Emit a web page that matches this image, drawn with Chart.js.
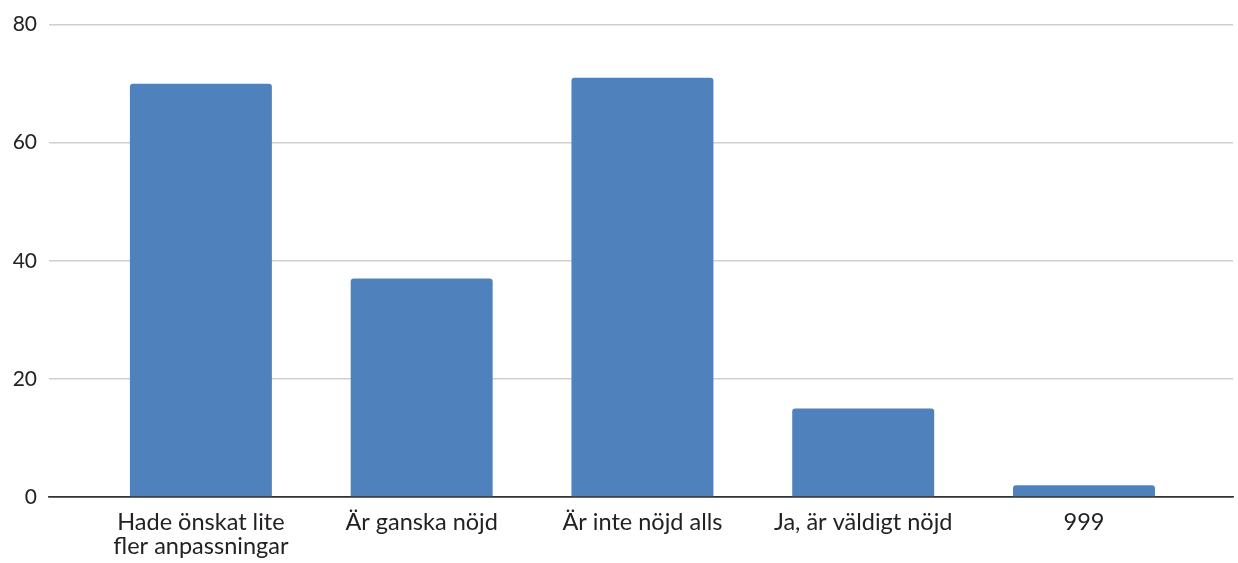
<!DOCTYPE html>
<html>
<head>
<meta charset="utf-8">
<script src="https://cdn.jsdelivr.net/npm/chart.js@4"></script>
<style>
  html, body { margin: 0; padding: 0; background: #fff; }
  #wrap { width: 1238px; height: 563px; }
</style>
</head>
<body>
<div id="wrap"><canvas id="chart"></canvas></div>
<script>
const categories = [
  ["Hade önskat lite", "fler anpassningar"],
  "Är ganska nöjd",
  "Är inte nöjd alls",
  "Ja, är väldigt nöjd",
  "999",
];
const counts = [70, 37, 71, 15, 2];
const yTicks = [0, 20, 40, 60, 80];

document.addEventListener("DOMContentLoaded", () => {
  const ctx = document.getElementById("chart").getContext("2d");

  new Chart(ctx, {
    type: "bar",
    data: {
      datasets: [
        {
          data: counts.map((v, i) => ({ x: i, y: v })),
          backgroundColor: "#4F81BD",
          borderWidth: 0,
          borderRadius: { topLeft: 3, topRight: 3 },
          borderSkipped: "bottom",
          categoryPercentage: 1,
          barPercentage: 0.643,
        },
      ],
    },
    options: {
      responsive: true,
      maintainAspectRatio: false,
      animation: false,
      layout: { padding: { top: 22, right: 5, left: 0, bottom: 0 } },
      plugins: {
        legend: { display: false },
        tooltip: { enabled: false },
      },
      scales: {
        x: {
          type: "linear",
          offset: false,
          min: -0.688,
          max: 4.675,
          grid: { display: false, offset: false },
          border: { color: "#333", width: 1.5 },
          ticks: {
            stepSize: 1,
            includeBounds: false,
            autoSkip: false,
            maxRotation: 0,
            padding: 5,
            color: "#222",
            font: { family: "Lato", size: 23.5, lineHeight: 1.02 },
            callback: (v) => categories[v] ?? "",
          },
          afterFit: (scale) => { scale.height = 66; },
        },
        y: {
          min: yTicks[0],
          max: yTicks[yTicks.length - 1],
          border: { display: false },
          grid: {
            drawTicks: false,
            lineWidth: 1.5,
            color: (c) => (c.tick && c.tick.value === 0 ? "#333" : "#cfcfcf"),
          },
          ticks: {
            stepSize: 20,
            padding: 12,
            color: "#222",
            font: { family: "Lato", size: 21 },
          },
          afterFit: (scale) => { scale.width = 49; },
        },
      },
    },
  });
});
</script>
</body>
</html>
